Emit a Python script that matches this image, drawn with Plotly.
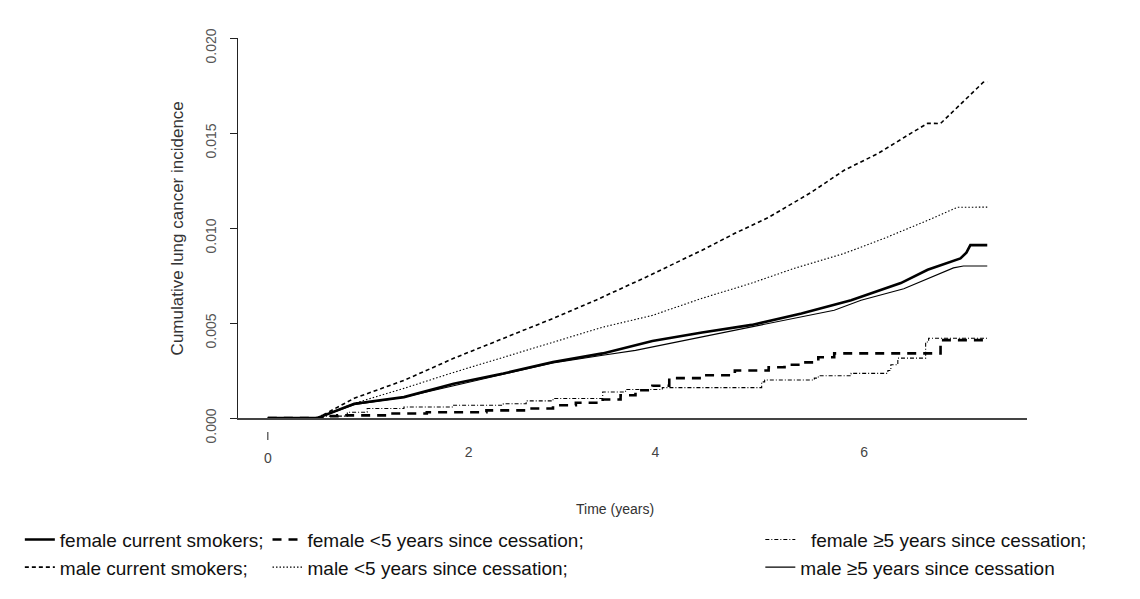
import plotly.graph_objects as go

# ---- data ----
t_fem_cur = [0, 0.5, 0.87, 1.37, 1.87, 2.37, 2.87, 3.37, 3.87, 4.37, 4.87, 5.37, 5.87, 6.37, 6.64, 6.9, 6.97, 7.03, 7.07, 7.24]
v_fem_cur = [0, 0, 0.00075, 0.0011, 0.0018, 0.00234, 0.00295, 0.0034, 0.00405, 0.0045, 0.0049, 0.0055, 0.0062, 0.0071, 0.0078, 0.0083, 0.0084, 0.0087, 0.0091, 0.0091]

t_male_cur = [0, 0.5, 0.87, 1.37, 1.87, 2.37, 2.87, 3.3, 3.8, 4.37, 4.7, 5.04, 5.47, 5.8, 6.14, 6.47, 6.64, 6.77, 6.94, 7.1, 7.2, 7.24]
v_male_cur = [0, 0, 0.00104, 0.00198, 0.00314, 0.00419, 0.00524, 0.0062, 0.0074, 0.00883, 0.00972, 0.01056, 0.01188, 0.01304, 0.01392, 0.01498, 0.01551, 0.0155, 0.01635, 0.01714, 0.01767, 0.0177]

t_fem_lt5 = [0, 0.55, 0.7, 1.2, 1.6, 2.2, 2.6, 2.87, 3.1, 3.37, 3.55, 3.7, 3.87, 4.04, 4.37, 4.7, 5.04, 5.2, 5.37, 5.54, 5.7, 6.77, 7.24]
v_fem_lt5 = [0, 0.0001, 0.00014, 0.00024, 0.0003, 0.0004, 0.0005, 0.00067, 0.0008, 0.00097, 0.0012, 0.00146, 0.0017, 0.0021, 0.00225, 0.0025, 0.00267, 0.0028, 0.00293, 0.0032, 0.0034, 0.0041, 0.0041]

t_male_lt5 = [0, 0.5, 0.87, 1.37, 1.87, 2.37, 2.87, 3.37, 3.87, 4.37, 4.87, 5.3, 5.8, 6.2, 6.64, 6.94, 7.24]
v_male_lt5 = [0, 0, 0.00077, 0.00156, 0.0024, 0.0032, 0.004, 0.00478, 0.0054, 0.0063, 0.0071, 0.00788, 0.00866, 0.00945, 0.0104, 0.01109, 0.0111]

t_fem_ge5 = [0, 0.55, 0.8, 1.0, 1.37, 1.87, 2.37, 2.6, 2.87, 3.37, 3.6, 3.97, 4.97, 5.0, 5.5, 5.54, 5.87, 6.24, 6.27, 6.34, 6.62, 6.65, 7.24]
v_fem_ge5 = [0, 0.0001, 0.0003, 0.0005, 0.00058, 0.00067, 0.00075, 0.0009, 0.00103, 0.00137, 0.0015, 0.0016, 0.0019, 0.002, 0.0021, 0.00222, 0.00235, 0.0025, 0.0028, 0.00315, 0.004, 0.0042, 0.0042]

t_male_ge5 = [0, 0.5, 0.87, 1.37, 1.87, 2.37, 2.87, 3.37, 3.7, 4.37, 5.04, 5.7, 5.97, 6.4, 6.9, 7.0, 7.24]
v_male_ge5 = [0, 0, 0.0007, 0.0011, 0.0017, 0.0023, 0.0029, 0.0033, 0.00356, 0.00427, 0.00498, 0.00567, 0.0062, 0.0068, 0.0079, 0.008, 0.008]

names = ["female current smokers;", "female <5 years since cessation;", "\u00a0\u00a0female \u22655 years since cessation;",
         "male current smokers;", "male <5 years since cessation;", "male \u22655 years since cessation"]

y_tick_vals = [0, 0.005, 0.010, 0.015, 0.020]
y_tick_text = ["0.000", "0.005", "0.010", "0.015", "0.020"]
x_tick_vals = [2.02, 3.9, 6.0]
x_tick_text = ["2", "4", "6"]
x_zero_val = [0]
x_zero_text = ["0"]

FONT = "Liberation Sans, Arial, sans-serif"
Y_RANGE = [0, 0.02]

fig = go.Figure()

def add(t, v, name, width, dash, shape, legend):
    fig.add_trace(go.Scatter(x=t, y=v, mode="lines", name=name, legend=legend,
                             line=dict(color="black", width=width, dash=dash, shape=shape)))

add(t_fem_cur, v_fem_cur, names[0], 2.6, "solid", "linear", "legend")
add(t_male_cur, v_male_cur, names[3], 1.6, "4px,3px", "linear", "legend")
add(t_fem_lt5, v_fem_lt5, names[1], 2.6, "9px,7px", "hv", "legend2")
add(t_male_lt5, v_male_lt5, names[4], 1.1, "1.5px,2px", "linear", "legend2")
add(t_fem_ge5, v_fem_ge5, names[2], 1.1, "4px,2px,1px,2px", "hv", "legend3")
add(t_male_ge5, v_male_ge5, names[5], 1.1, "solid", "linear", "legend3")

# invisible anchor for the overlay axis that only carries the "0" label
fig.add_trace(go.Scatter(x=[0], y=[0], xaxis="x2", mode="markers", marker=dict(opacity=0),
                         showlegend=False, hoverinfo="skip"))

leg_common = dict(orientation="v", font=dict(family=FONT, size=19, color="#111"),
                  bgcolor="rgba(0,0,0,0)", yanchor="top", xanchor="left",
                  itemwidth=30, tracegroupgap=0)

# page offset of 8px (body margin) -> plot area spans page x 233..1027, y 38..418
L, R, T, B = 225, 113, 30, 181
PX0, PY0 = 233, 418  # page px of plot left / bottom
PW, PH = 794, 380

fig.update_layout(
    width=1132, height=591,
    margin=dict(l=L, r=R, t=T, b=B),
    plot_bgcolor="white", paper_bgcolor="white",
    font=dict(family=FONT, color="#333"),
    showlegend=True,
    legend=dict(x=-0.2765, y=-0.27, **leg_common),
    legend2=dict(x=0.0374, y=-0.27, **leg_common),
    legend3=dict(x=0.662, y=-0.27, **leg_common),
    xaxis=dict(range=[-0.3, 7.64], showgrid=False, zeroline=False, showline=True,
               linecolor="#444", linewidth=1.5, ticks="",
               tickvals=x_tick_vals, ticktext=x_tick_text, ticklabelstandoff=20,
               tickfont=dict(family=FONT, size=14, color="#444")),
    xaxis2=dict(overlaying="x", anchor="y", side="bottom", range=[-0.3, 7.64],
                showgrid=False, zeroline=False, showline=False, ticks="",
                tickvals=x_zero_val, ticktext=x_zero_text, ticklabelstandoff=30,
                tickfont=dict(family=FONT, size=14, color="#444")),
    yaxis=dict(range=Y_RANGE, showgrid=False, zeroline=False, showline=True,
               linecolor="#222", linewidth=1.2, ticks="outside", ticklen=7, tickwidth=1.2,
               tickcolor="#222", tickvals=y_tick_vals, ticktext=y_tick_text,
               tickangle=-90, ticklabelstandoff=8, ticklabelshift=10,
               tickfont=dict(family=FONT, size=14, color="#555")),
    annotations=[
        dict(text="Time (years)", xref="paper", yref="paper", x=(612 - PX0) / PW, y=-(509 - PY0) / PH,
             xanchor="center", yanchor="middle",
             showarrow=False, font=dict(family=FONT, size=14, color="#333")),
        dict(text="Cumulative lung cancer incidence", xref="paper", yref="paper",
             x=(172 - PX0) / PW, y=(PY0 - 228) / PH, textangle=-90, xanchor="center", yanchor="middle",
             showarrow=False, font=dict(family=FONT, size=17, color="#333")),
    ],
    shapes=[
        dict(type="line", xref="x", yref="paper", x0=x_zero_val[0], x1=x_zero_val[0],
             y0=-(432 - PY0) / PH, y1=-(440 - PY0) / PH, line=dict(color="#444", width=1.2)),
    ],
)

fig.write_html("out.html")
